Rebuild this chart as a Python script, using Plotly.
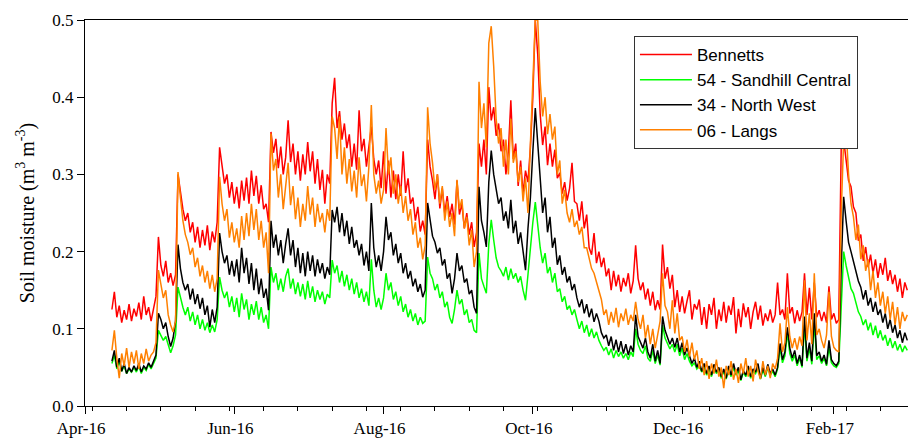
import numpy as np
import pandas as pd
import plotly.graph_objects as go

# Daily volumetric soil moisture, in thousandths of m3 m-3, from 12 Apr 2016
start_date = "2016-04-12"

bennetts = [
    125, 148, 115, 130, 108, 124, 112, 132, 110, 126,
    116, 134, 112, 142, 118, 128, 110, 125, 142, 219,
    182, 168, 188, 160, 172, 156, 170, 300, 275, 255,
    240, 250, 225, 238, 212, 232, 205, 228, 208, 234,
    202, 226, 212, 238, 335, 310, 288, 300, 270, 290,
    262, 284, 256, 292, 266, 296, 262, 305, 272, 298,
    262, 286, 255, 262, 238, 355, 328, 346, 308, 336,
    300, 322, 370, 316, 340, 300, 330, 292, 326, 300,
    342, 304, 330, 288, 320, 280, 306, 262, 300, 288,
    392, 425, 360, 382, 345, 366, 334, 352, 310, 340,
    306, 383, 330, 346, 310, 336, 362, 320, 300, 318,
    282, 330, 275, 318, 270, 305, 268, 300, 272, 330,
    276, 295, 262, 270, 240, 258, 226, 240, 222, 345,
    310, 292, 268, 300, 256, 282, 250, 272, 245, 262,
    235, 292, 248, 262, 230, 250, 222, 238, 206, 225,
    340, 310, 345, 300, 413, 370, 387, 350, 366, 330,
    345, 300, 330, 396, 320, 340, 285, 318, 275, 305,
    290, 335, 400, 500, 455, 378, 338, 362, 312, 340,
    310, 332, 295, 302, 275, 290, 266, 282, 315, 265,
    262, 240, 265, 230, 248, 205, 196, 224, 185, 200,
    180, 192, 168, 178, 150, 175, 155, 170, 148, 166,
    155, 172, 146, 162, 208, 165, 150, 160, 138, 152,
    130, 148, 124, 137, 125, 209, 165, 180, 152, 170,
    128, 150, 122, 142, 120, 136, 150, 112, 132, 125,
    138, 105, 128, 100, 132, 118, 140, 100, 125, 110,
    135, 108, 130, 118, 141, 94, 126, 102, 133, 115,
    128, 100, 122, 135, 112, 130, 104, 120, 110, 125,
    108, 118, 160, 118, 125, 112, 172, 120, 128, 107,
    124, 110, 122, 172, 118, 153, 112, 160, 115, 124,
    110, 122, 108, 155, 112, 120, 107, 112, 335, 345,
    318, 292, 284, 258, 250, 214, 222, 188, 206, 180,
    196, 172, 190, 166, 185, 170, 192, 162, 176, 158,
    170, 148, 165, 140, 160, 150,
]

sandhill_central = [
    55, 66, 48, 58, 45, 52, 42, 48, 44, 50,
    44, 52, 42, 50, 46, 54, 48, 56, 62, 98,
    92, 85, 90, 80, 69, 78, 92, 154, 140, 128,
    118, 128, 110, 122, 105, 118, 100, 112, 98, 108,
    95, 105, 96, 112, 167, 150, 140, 148, 128, 142,
    122, 140, 115, 146, 125, 138, 112, 132, 118, 136,
    112, 128, 108, 118, 100, 180, 160, 172, 150, 165,
    148, 168, 178, 152, 165, 145, 160, 142, 158, 138,
    162, 140, 155, 135, 150, 138, 148, 132, 145, 140,
    189, 172, 182, 160, 175, 155, 170, 150, 165, 145,
    160, 140, 152, 135, 148, 130, 190, 150, 128, 140,
    125, 140, 172, 150, 160, 138, 148, 130, 142, 122,
    132, 115, 125, 110, 120, 105, 115, 107, 110, 193,
    172, 165, 150, 158, 140, 148, 128, 135, 115, 107,
    125, 150, 132, 138, 118, 125, 108, 112, 98, 95,
    198, 165, 155, 146, 210, 241, 215, 192, 180, 175,
    168, 180, 163, 178, 165, 172, 160, 168, 150, 137,
    170, 210, 238, 264, 230, 205, 185, 198, 172, 180,
    160, 172, 148, 152, 135, 142, 125, 130, 118, 125,
    112, 100, 110, 95, 105, 90, 100, 88, 96, 85,
    78, 72, 76, 66, 74, 62, 72, 64, 70, 62,
    68, 60, 70, 64, 100, 80, 72, 68, 78, 62,
    58, 72, 55, 66, 53, 105, 88, 82, 74, 80,
    70, 80, 65, 75, 60, 68, 58, 52, 56, 48,
    52, 44, 50, 40, 48, 38, 50, 42, 47, 36,
    45, 35, 48, 38, 50, 40, 46, 33, 44, 38,
    48, 36, 45, 42, 50, 35, 47, 38, 50, 40,
    45, 38, 48, 75, 56, 65, 95, 68, 58, 66,
    52, 62, 50, 105, 58, 75, 54, 108, 60, 65,
    55, 62, 52, 76, 56, 52, 50, 55, 140, 200,
    182, 165, 152, 146, 132, 122, 116, 105, 112, 98,
    108, 92, 104, 88, 98, 85, 92, 78, 88, 75,
    84, 72, 80, 70, 78, 72,
]

north_west = [
    58, 72, 50, 62, 45, 55, 42, 50, 44, 52,
    46, 55, 44, 52, 48, 56, 50, 58, 66, 120,
    112, 100, 108, 90, 77, 88, 110, 209, 178, 160,
    150, 158, 138, 152, 132, 145, 126, 140, 118, 130,
    102, 125, 108, 128, 224, 200, 185, 195, 170, 188,
    168, 190, 160, 205, 172, 192, 158, 185, 150, 178,
    145, 165, 140, 152, 124, 240, 205, 222, 195, 215,
    185, 210, 230, 195, 215, 180, 205, 172, 198, 168,
    200, 175, 195, 168, 190, 172, 185, 165, 180, 170,
    254, 238, 258, 225, 250, 220, 240, 210, 232, 205,
    215, 195, 210, 182, 200, 175, 263, 205, 180, 195,
    175, 200, 245, 215, 225, 195, 210, 185, 198, 172,
    185, 165, 175, 155, 165, 148, 158, 141, 150, 263,
    238, 220, 212, 198, 205, 182, 190, 165, 172, 146,
    165, 198, 175, 182, 160, 165, 145, 150, 128, 120,
    284, 240, 225, 206, 290, 331, 300, 278, 262, 270,
    240, 252, 230, 267, 224, 240, 210, 225, 198, 176,
    230, 270, 330, 386, 340, 290, 250, 270, 225, 245,
    205, 218, 183, 195, 170, 180, 160, 168, 150, 158,
    140, 128, 138, 120, 132, 115, 126, 109, 120, 110,
    95, 88, 92, 78, 90, 72, 86, 70, 84, 68,
    80, 66, 78, 70, 118, 90, 82, 75, 88, 70,
    62, 80, 58, 72, 55, 116, 98, 90, 80, 88,
    76, 88, 70, 82, 66, 75, 64, 55, 62, 50,
    58, 45, 55, 42, 52, 40, 54, 44, 50, 38,
    48, 36, 52, 40, 55, 42, 50, 34, 46, 40,
    52, 38, 48, 44, 55, 36, 50, 40, 54, 42,
    48, 40, 50, 81, 60, 70, 102, 75, 62, 72,
    55, 66, 52, 116, 62, 82, 58, 120, 65, 70,
    58, 66, 54, 85, 60, 55, 52, 58, 180, 271,
    240, 212, 200, 188, 175, 162, 154, 138, 150, 130,
    140, 122, 135, 118, 125, 108, 120, 100, 112, 95,
    105, 88, 98, 82, 95, 85,
]

langs = [
    72, 98, 62, 36, 68, 52, 75, 50, 70, 55,
    72, 48, 68, 55, 74, 58, 66, 70, 82, 176,
    158, 140, 150, 118, 105, 96, 110, 303, 270, 240,
    222, 212, 196, 205, 180, 192, 168, 182, 160, 175,
    152, 170, 148, 165, 297, 262, 240, 255, 218, 238,
    212, 230, 205, 246, 215, 250, 220, 262, 228, 255,
    215, 240, 205, 225, 172, 353, 305, 320, 270, 300,
    255, 290, 315, 260, 285, 242, 270, 232, 262, 240,
    285, 248, 270, 232, 262, 238, 250, 225, 255, 240,
    375, 360, 320, 375, 300, 335, 288, 320, 278, 305,
    270, 322, 285, 300, 265, 310, 390, 300, 275, 292,
    262, 280, 360, 300, 322, 275, 300, 262, 285, 250,
    272, 240, 255, 222, 238, 205, 218, 190, 208, 387,
    340, 315, 280, 300, 262, 285, 240, 265, 232, 250,
    220, 293, 255, 268, 230, 245, 208, 228, 180, 200,
    420, 360, 392, 335, 470, 492, 440, 372, 340, 360,
    310, 345, 300, 372, 315, 330, 290, 310, 265, 295,
    250, 340, 420, 500, 500, 420, 375, 400, 352, 378,
    345, 362, 300, 318, 262, 280, 250, 238, 255, 232,
    240, 222, 232, 205, 205, 190, 178, 172, 160, 150,
    138, 118, 125, 105, 122, 108, 127, 102, 120, 110,
    126, 105, 118, 110, 135, 112, 100, 118, 88, 105,
    80, 100, 75, 92, 110, 172, 130, 122, 100, 137,
    94, 120, 85, 90, 70, 86, 64, 82, 60, 72,
    48, 62, 40, 58, 35, 55, 42, 60, 38, 50,
    23, 52, 40, 58, 34, 48, 30, 55, 42, 62,
    38, 52, 32, 60, 45, 35, 58, 40, 52, 36,
    55, 48, 62, 107, 70, 82, 128, 90, 75, 88,
    73, 90, 78, 163, 85, 120, 80, 172, 92, 100,
    85, 75, 92, 148, 90, 76, 72, 70, 250, 345,
    360, 300, 262, 245, 215, 235, 190, 208, 175, 190,
    150, 175, 140, 160, 130, 148, 120, 142, 112, 135,
    105, 128, 100, 122, 110, 118,
]

series = [
    ("Bennetts", bennetts, "#ff0000"),
    ("54 - Sandhill Central", sandhill_central, "#00ff00"),
    ("34 - North West", north_west, "#000000"),
    ("06 - Langs", langs, "#ff8000"),
]

serif = "Liberation Serif, Times New Roman, serif"
sans = "Liberation Sans, Arial, sans-serif"

fig = go.Figure()
for name, vals, color in series:
    dates = pd.date_range(start_date, periods=len(vals), freq="D")
    fig.add_trace(go.Scatter(
        x=dates, y=np.array(vals) / 1000.0, mode="lines", name=name,
        line=dict(color=color, width=1.5),
    ))

fig.update_layout(
    width=908, height=439,
    margin=dict(l=85, r=0, t=20, b=33),
    plot_bgcolor="white", paper_bgcolor="white",
    showlegend=True,
    legend=dict(
        x=0.667, y=0.9585, xanchor="left", yanchor="top",
        bgcolor="white", bordercolor="#333333", borderwidth=1,
        font=dict(family=sans, size=17, color="black"),
        itemwidth=52, tracegroupgap=0,
        entrywidth=245, entrywidthmode="pixels",
    ),
)

fig.update_xaxes(
    type="date",
    range=["2016-04-01", "2017-03-03 07:00"],
    tick0="2016-04-01", dtick="M2", tickformat="%b-%y",
    ticks="outside", ticklen=7, tickwidth=1, tickcolor="black",
    showline=True, linecolor="black", linewidth=1, mirror=True,
    showgrid=False, zeroline=False,
    ticklabelshift=-4,
    tickfont=dict(family=serif, size=17, color="black"),
    minor=dict(dtick=14 * 86400000, tick0="2016-04-04", ticks="outside",
               ticklen=4, tickcolor="black", showgrid=False),
)

fig.update_yaxes(
    range=[0, 0.5], dtick=0.1, tickformat=".1f",
    ticks="outside", ticklen=7, tickwidth=1, tickcolor="black",
    showline=True, linecolor="black", linewidth=1,
    showgrid=False, zeroline=False,
    tickfont=dict(family=serif, size=17, color="black"),
    title=dict(text="Soil moisture (m<sup>3</sup> m<sup>-3</sup>)",
               font=dict(family=serif, size=20, color="black"), standoff=12),
)

fig.write_html("out.html")
